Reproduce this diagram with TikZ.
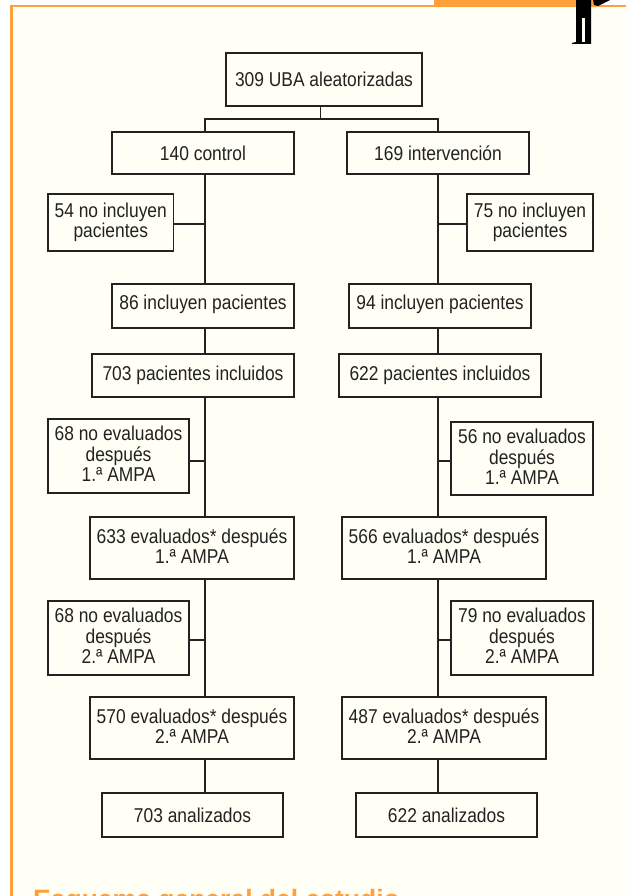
\documentclass[tikz,border=0pt]{standalone}
\usepackage{fontspec}
\setmainfont[FakeStretch=0.87]{Liberation Sans}
\newfontfamily\headfont{Liberation Sans}
\definecolor{orangeb}{HTML}{FFA03C}
\definecolor{creamb}{HTML}{FFFFF5}
\definecolor{inkb}{HTML}{222222}
\tikzset{
  flowbox/.style={draw=inkb,line width=1.3pt,fill=creamb,text=inkb,align=center,inner sep=0pt,
    font=\fontsize{20}{20}\selectfont},
  link/.style={draw=inkb,line width=1.3pt},
}
\newcommand{\bx}[6]{%
  \pgfmathsetmacro{\bw}{#4-#2}\pgfmathsetmacro{\bh}{#5-#3}%
  \node[flowbox,minimum width=\bw pt,minimum height=\bh pt] (#1) at ({(#2+#4)/2},{(#3+#5)/2}) {#6};}
\newcommand{\mlines}[1]{\vbox{\hbox{\begin{tabular}{@{}c@{}}#1\end{tabular}}\kern-2pt}}
\newcommand{\upby}[1]{\vbox{\hbox{#1}\kern4pt}}
\begin{document}
\begin{tikzpicture}[x=1pt,y=-1pt]
\useasboundingbox (0,0) rectangle (626,896);
\begin{scope}
\clip (0,0) rectangle (626,896);
\fill[white] (0,0) rectangle (626,896);
\fill[creamb] (10,5) rectangle (626,896);
\fill[orangeb] (10,5) rectangle (626,7.5);
\fill[orangeb] (10,5) rectangle (12.7,896);
\fill[orangeb] (434,0) rectangle (594,7);
% silhouette
\fill[black] (576,0) -- (591,0) -- (591,44) -- (572,44) -- (572,43) -- (576,42) -- cycle;
\fill[creamb] (582,18) rectangle (585,42);
\fill[black] (593,0) -- (610,0) -- (598,6) -- (594,5) -- cycle;
\node[anchor=base west,inner sep=0pt,text=orangeb,font=\fontsize{26.5}{28}\headfont\bfseries] (title) at (33,908) {Esquema general del estudio};
\end{scope}

\coordinate (tl) at (205,0);
\coordinate (tr) at (438,0);
\coordinate (td) at (320.5,0);
\coordinate (ty) at (0,119);
\coordinate (cA) at (0,224);
\coordinate (cB) at (0,461);
\coordinate (cC) at (0,640);

\bx{uba}{226}{53}{422}{106}{309 UBA aleatorizadas}
\bx{ctrl}{112}{132}{294}{174}{140 control}
\bx{intv}{347}{132}{529}{174}{169 intervención}
\bx{noL}{48}{194}{173.5}{251}{\mlines{54 no incluyen\\pacientes}}
\bx{noR}{467}{194}{593}{251}{\mlines{75 no incluyen\\pacientes}}
\bx{siL}{112}{284}{294}{328}{\upby{86 incluyen pacientes}}
\bx{siR}{349}{284}{531}{328}{\upby{94 incluyen pacientes}}
\bx{paL}{92}{354}{294}{397}{703 pacientes incluidos}
\bx{paR}{339}{354}{541}{397}{622 pacientes incluidos}
\bx{neL}{48}{419}{189}{493}{\mlines{68 no evaluados\\después\\1.ª AMPA}}
\bx{neR}{451}{422}{593}{495}{\mlines{56 no evaluados\\después\\1.ª AMPA}}
\bx{evL}{90}{517}{294}{579}{\mlines{633 evaluados* después\\1.ª AMPA}}
\bx{evR}{342}{517}{546}{579}{\mlines{566 evaluados* después\\1.ª AMPA}}
\bx{nfL}{48}{601}{189}{675}{\mlines{68 no evaluados\\después\\2.ª AMPA}}
\bx{nfR}{451}{601}{593}{675}{\mlines{79 no evaluados\\después\\2.ª AMPA}}
\bx{efL}{90}{697}{294}{759}{\mlines{570 evaluados* después\\2.ª AMPA}}
\bx{efR}{342}{697}{546}{759}{\mlines{487 evaluados* después\\2.ª AMPA}}
\bx{anL}{102}{793}{283}{837}{703 analizados}
\bx{anR}{356}{793}{537}{837}{622 analizados}

\draw[link] (uba.south -| td) -- (ty -| td);
\draw[link] (ctrl.north -| tl) -- (ty -| tl) -- (ty -| tr) -- (intv.north -| tr);
\foreach \a/\b in {ctrl/siL,siL/paL,paL/evL,evL/efL,efL/anL}
  \draw[link] (\a.south -| tl) -- (\b.north -| tl);
\foreach \a/\b in {intv/siR,siR/paR,paR/evR,evR/efR,efR/anR}
  \draw[link] (\a.south -| tr) -- (\b.north -| tr);
\foreach \n/\c in {noL/cA,neL/cB,nfL/cC}
  \draw[link] (\n.east |- \c) -- (\c -| tl);
\foreach \n/\c in {noR/cA,neR/cB,nfR/cC}
  \draw[link] (\n.west |- \c) -- (\c -| tr);
\end{tikzpicture}
\end{document}
